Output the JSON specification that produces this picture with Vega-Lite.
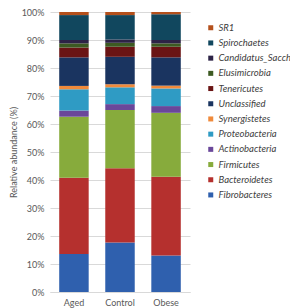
{
  "$schema": "https://vega.github.io/schema/vega-lite/v6.json",
  "width": 140,
  "height": 280,
  "autosize": {"type": "none"},
  "padding": {"left": 50, "top": 12, "right": 100, "bottom": 16},
  "background": "white",
  "config": {
    "view": {"stroke": null},
    "font": "Lato",
    "axis": {"labelFont": "Lato", "titleFont": "Lato", "labelColor": "#595959", "titleColor": "#595959", "labelFontSize": 9, "titleFontSize": 9, "titleFontWeight": "normal", "gridColor": "#d9d9d9", "domainColor": "#d9d9d9", "ticks": false}
  },
  "data": {"values": [
    {"group": "Aged", "taxon": "Fibrobacteres", "value": 13.6},
    {"group": "Aged", "taxon": "Bacteroidetes", "value": 27.2},
    {"group": "Aged", "taxon": "Firmicutes", "value": 21.8},
    {"group": "Aged", "taxon": "Actinobacteria", "value": 2.2},
    {"group": "Aged", "taxon": "Proteobacteria", "value": 7.6},
    {"group": "Aged", "taxon": "Synergistetes", "value": 1.2},
    {"group": "Aged", "taxon": "Unclassified", "value": 10.2},
    {"group": "Aged", "taxon": "Tenericutes", "value": 3.5},
    {"group": "Aged", "taxon": "Elusimicrobia", "value": 1.5},
    {"group": "Aged", "taxon": "Candidatus_Saccharibacteria", "value": 1.2},
    {"group": "Aged", "taxon": "Spirochaetes", "value": 8.9},
    {"group": "Aged", "taxon": "SR1", "value": 1.1},
    {"group": "Control", "taxon": "Fibrobacteres", "value": 17.7},
    {"group": "Control", "taxon": "Bacteroidetes", "value": 26.5},
    {"group": "Control", "taxon": "Firmicutes", "value": 20.8},
    {"group": "Control", "taxon": "Actinobacteria", "value": 2.1},
    {"group": "Control", "taxon": "Proteobacteria", "value": 6.0},
    {"group": "Control", "taxon": "Synergistetes", "value": 1.1},
    {"group": "Control", "taxon": "Unclassified", "value": 9.8},
    {"group": "Control", "taxon": "Tenericutes", "value": 3.6},
    {"group": "Control", "taxon": "Elusimicrobia", "value": 1.4},
    {"group": "Control", "taxon": "Candidatus_Saccharibacteria", "value": 1.2},
    {"group": "Control", "taxon": "Spirochaetes", "value": 8.7},
    {"group": "Control", "taxon": "SR1", "value": 1.1},
    {"group": "Obese", "taxon": "Fibrobacteres", "value": 13.0},
    {"group": "Obese", "taxon": "Bacteroidetes", "value": 28.2},
    {"group": "Obese", "taxon": "Firmicutes", "value": 22.8},
    {"group": "Obese", "taxon": "Actinobacteria", "value": 2.4},
    {"group": "Obese", "taxon": "Proteobacteria", "value": 6.3},
    {"group": "Obese", "taxon": "Synergistetes", "value": 1.0},
    {"group": "Obese", "taxon": "Unclassified", "value": 10.1},
    {"group": "Obese", "taxon": "Tenericutes", "value": 3.8},
    {"group": "Obese", "taxon": "Elusimicrobia", "value": 1.2},
    {"group": "Obese", "taxon": "Candidatus_Saccharibacteria", "value": 1.2},
    {"group": "Obese", "taxon": "Spirochaetes", "value": 9.2},
    {"group": "Obese", "taxon": "SR1", "value": 0.8}
  ]},
  "transform": [
    {"calculate": "indexof(['Fibrobacteres','Bacteroidetes','Firmicutes','Actinobacteria','Proteobacteria','Synergistetes','Unclassified','Tenericutes','Elusimicrobia','Candidatus_Saccharibacteria','Spirochaetes','SR1'], datum.taxon)", "as": "stackOrder"}
  ],
  "mark": {"type": "bar"},
  "encoding": {
    "x": {"field": "group", "type": "nominal", "title": null,
      "scale": {"paddingInner": 0.36, "paddingOuter": 0.2},
      "axis": {"labelAngle": 0, "labelPadding": 6, "domain": true, "grid": false}},
    "y": {"field": "value", "type": "quantitative", "stack": "normalize", "title": "Relative abundance (%)",
      "scale": {"domain": [0, 1]},
      "axis": {"format": ".0%", "values": [0,0.1,0.2,0.3,0.4,0.5,0.6,0.7,0.8,0.9,1], "domain": false, "labelPadding": 6, "titlePadding": 3}},
    "order": {"field": "stackOrder", "type": "quantitative", "sort": "ascending"},
    "color": {"field": "taxon", "type": "nominal",
      "scale": {
        "domain": ["SR1", "Spirochaetes", "Candidatus_Saccharibacteria", "Elusimicrobia", "Tenericutes", "Unclassified", "Synergistetes", "Proteobacteria", "Actinobacteria", "Firmicutes", "Bacteroidetes", "Fibrobacteres"],
        "range": ["#b4501c", "#11475e", "#2d2346", "#3d5a22", "#6a1414", "#1a3460", "#f08a3b", "#2f9bc4", "#6a479a", "#87ab3c", "#b5302e", "#2f60ae"]
      },
      "legend": {"title": null, "orient": "none", "legendX": 156, "legendY": 11, "padding": 0, "symbolType": "square", "symbolSize": 25, "symbolStrokeWidth": 0, "labelFontSize": 9.5, "labelFontStyle": "italic", "labelColor": "#404040", "labelFont": "Lato", "rowPadding": 4.2, "labelOffset": 3, "labelLimit": 300,
        "values": ["SR1", "Spirochaetes", "Candidatus_Saccharibacteria", "Elusimicrobia", "Tenericutes", "Unclassified", "Synergistetes", "Proteobacteria", "Actinobacteria", "Firmicutes", "Bacteroidetes", "Fibrobacteres"]}
    }
  }
}
